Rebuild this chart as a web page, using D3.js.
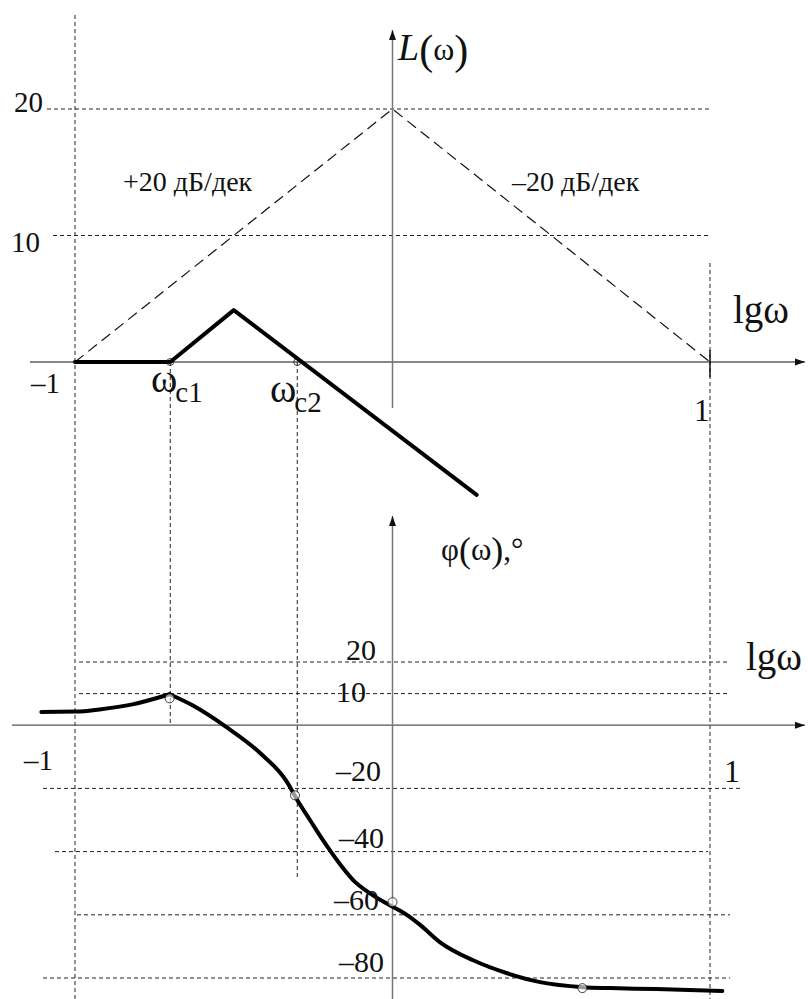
<!DOCTYPE html>
<html>
<head>
<meta charset="utf-8">
<script src="https://cdn.jsdelivr.net/npm/d3@7"></script>
<style>
  html, body { margin: 0; padding: 0; background: #fff; }
  svg { display: block; }
  text { font-family: "Liberation Serif", "DejaVu Serif", serif; fill: #111; }
</style>
</head>
<body>
<div id="chart"></div>
<script>
// ── data ────────────────────────────────────────────────────────────────
const lgDomain = [-1, 1];
const magTicks = [10, 20];
const phaseTicks = [20, 10, -20, -40, -60, -80];

// asymptotes of the reference link (dB)
const asymLg = [-1, 0, 1];
const asymL = [0, 20, 0];

// resulting log-magnitude curve
const magLg = [-1, -0.7, -0.5, 0.265];
const magL = [0, 0, 4.1, -10.5];

// crossover frequencies
const cutoffNames = ['c1', 'c2'];
const cutoffLg = [-0.7, -0.3];

// phase curve (two smooth pieces meeting at the kink at ωc1)
const phaseLgA = [-1.106, -0.995, -0.923, -0.819, -0.702];
const phaseA = [4.2, 4.3, 5.0, 6.6, 9.8];
const phaseLgB = [-0.702, -0.630, -0.523, -0.417, -0.332, -0.301, -0.260, -0.219, -0.175, -0.124, -0.071, -0.008, 0.046, 0.087, 0.150, 0.254, 0.361, 0.465, 0.600, 0.685, 0.831, 1.039];
const phaseB = [9.8, 6.3, -0.6, -8.8, -18.0, -23.5, -30.0, -36.4, -42.7, -49.0, -53.2, -57.0, -60.1, -63.2, -68.7, -74.4, -78.5, -81.3, -82.9, -83.2, -83.5, -84.1];

// marked points on the phase curve
const phaseMarkLg = [-0.702, -0.307, 0, 0.598];
const phaseMark = [8.5, -22.2, -56, -83.2];

// ── layout ──────────────────────────────────────────────────────────────
const W = 808, H = 999;
const x = d3.scaleLinear().domain(lgDomain).range([75, 710]);
const yL = d3.scaleLinear().domain([0, 20]).range([362, 109]);
const yP = d3.scaleLinear().domain([-80, 20]).range([978, 662]);

const svg = d3.select('#chart').append('svg')
  .attr('width', W).attr('height', H).attr('viewBox', `0 0 ${W} ${H}`);

svg.append('defs').append('marker')
  .attr('id', 'arrow').attr('viewBox', '0 0 10 10')
  .attr('refX', 10).attr('refY', 5)
  .attr('markerWidth', 10).attr('markerHeight', 10)
  .attr('markerUnits', 'userSpaceOnUse').attr('orient', 'auto')
  .append('path').attr('d', 'M0,1.5 L10,5 L0,8.5 Z').attr('fill', '#111');

const grid = (x1, y1, x2, y2) => svg.append('line')
  .attr('x1', x1).attr('y1', y1).attr('x2', x2).attr('y2', y2)
  .attr('stroke', '#222').attr('stroke-width', 1).attr('stroke-dasharray', '4,3');

// ── gridlines ───────────────────────────────────────────────────────────
grid(x(-1), 15, x(-1), H);
grid(x(1), 263, x(1), H);

const magGridStart = { 20: 47, 10: 53 };
magTicks.forEach(v => grid(magGridStart[v], yL(v), x(1), yL(v)));

const phaseGridExt = { 20: [79, 730], 10: [79, 730], '-20': [43, 743], '-40': [55, 708], '-60': [77, 730], '-80': [43, 730] };
phaseTicks.forEach(v => grid(phaseGridExt[v][0], yP(v), phaseGridExt[v][1], yP(v)));

// drop lines from crossover frequencies
const dropTo = [yP(0) - 2, 880];
cutoffLg.forEach((c, i) => grid(x(c), yL(0), x(c), dropTo[i]));

// ── axes ────────────────────────────────────────────────────────────────
svg.append('line').attr('x1', 30).attr('y1', yL(0)).attr('x2', 805).attr('y2', yL(0))
  .attr('stroke', '#111').attr('stroke-width', 1.2).attr('marker-end', 'url(#arrow)');
svg.append('line').attr('x1', x(0)).attr('y1', 408).attr('x2', x(0)).attr('y2', 30)
  .attr('stroke', '#777').attr('stroke-width', 1.5).attr('marker-end', 'url(#arrow)');
svg.append('line').attr('x1', x(1)).attr('y1', yL(0) - 12).attr('x2', x(1)).attr('y2', yL(0) + 15)
  .attr('stroke', '#111').attr('stroke-width', 1.5);

svg.append('line').attr('x1', 12).attr('y1', yP(0)).attr('x2', 805).attr('y2', yP(0))
  .attr('stroke', '#555').attr('stroke-width', 1.3).attr('marker-end', 'url(#arrow)');
svg.append('line').attr('x1', x(0)).attr('y1', H).attr('x2', x(0)).attr('y2', 516)
  .attr('stroke', '#777').attr('stroke-width', 1.5).attr('marker-end', 'url(#arrow)');

// ── magnitude plot ──────────────────────────────────────────────────────
const lineL = d3.line().x(d => x(d[0])).y(d => yL(d[1]));

svg.append('path').datum(d3.zip(asymLg, asymL)).attr('d', lineL)
  .attr('fill', 'none').attr('stroke', '#111').attr('stroke-width', 1.2)
  .attr('stroke-dasharray', '11,6');

svg.append('path').datum(d3.zip(magLg, magL)).attr('d', lineL)
  .attr('fill', 'none').attr('stroke', '#000').attr('stroke-width', 4)
  .attr('stroke-linejoin', 'round').attr('stroke-linecap', 'round');

svg.selectAll('.cut').data(cutoffLg).enter().append('circle')
  .attr('cx', d => x(d)).attr('cy', yL(0)).attr('r', 3.5)
  .attr('fill', 'none').attr('stroke', '#111').attr('stroke-width', 0.8);

// ── phase plot ──────────────────────────────────────────────────────────
const lineP = d3.line().x(d => x(d[0])).y(d => yP(d[1])).curve(d3.curveMonotoneX);
[d3.zip(phaseLgA, phaseA), d3.zip(phaseLgB, phaseB)].forEach(pts => {
  svg.append('path').datum(pts).attr('d', lineP)
    .attr('fill', 'none').attr('stroke', '#000').attr('stroke-width', 4)
    .attr('stroke-linejoin', 'round').attr('stroke-linecap', 'round');
});

svg.selectAll('.pm').data(d3.zip(phaseMarkLg, phaseMark)).enter().append('circle')
  .attr('cx', d => x(d[0])).attr('cy', d => yP(d[1])).attr('r', 4.5)
  .attr('fill', '#fff').attr('fill-opacity', 0.6).attr('stroke', '#111').attr('stroke-width', 0.8);

// ── labels ──────────────────────────────────────────────────────────────
const label = (t, px, py, size, anchor = 'start') => svg.append('text')
  .attr('x', px).attr('y', py).attr('font-size', size).attr('text-anchor', anchor).text(t);

// L(ω)
const lt = svg.append('text').attr('x', 398).attr('y', 60).attr('font-size', 38);
lt.append('tspan').attr('font-style', 'italic').text('L');
lt.append('tspan').attr('font-size', 42).attr('dy', 4).text('(');
lt.append('tspan').attr('font-size', 32).attr('dy', -4).text('ω');
lt.append('tspan').attr('font-size', 42).attr('dy', 4).text(')');

label('lgω', 733, 323, 39);
label('lgω', 746, 670, 39);

const pt = svg.append('text').attr('x', 441).attr('y', 560).attr('font-size', 31);
pt.append('tspan').text('φ');
pt.append('tspan').attr('font-size', 36).attr('dy', 2).text('(');
pt.append('tspan').attr('dy', -2).text('ω');
pt.append('tspan').attr('font-size', 36).attr('dy', 2).text(')');
pt.append('tspan').attr('dy', -2).text(',°');

const magLabelX = { 20: 14, 10: 11 };
const magLabelDy = { 20: 3, 10: 16 };
magTicks.forEach(v => label(String(v), magLabelX[v], yL(v) + magLabelDy[v], 29));

const phaseLabelEnd = { 20: 376, 10: 366, '-20': 381, '-40': 384, '-60': 379, '-80': 384 };
const phaseLabelDy = { 20: -2, 10: 8, '-20': -7, '-40': -4, '-60': -5, '-80': -6 };
phaseTicks.forEach(v => label(v < 0 ? '–' + Math.abs(v) : String(v), phaseLabelEnd[v], yP(v) + phaseLabelDy[v], 30, 'end'));

label('–1', 31, 393, 29);
label('1', 694, 421, 31);
label('–1', 24, 770, 29);
label('1', 724, 782, 32);

label('+20 дБ/дек', 123, 191, 28);
label('–20 дБ/дек', 512, 191, 28);

// ω_c1, ω_c2
const cutLabelX = [151, 270];
const cutLabelY = [392, 402];
cutoffNames.forEach((n, i) => {
  const t = svg.append('text').attr('x', cutLabelX[i]).attr('y', cutLabelY[i]).attr('font-size', 40);
  t.append('tspan').text('ω');
  t.append('tspan').attr('font-size', 29).attr('dy', 10).attr('dx', -2).text(n);
});
</script>
</body>
</html>
